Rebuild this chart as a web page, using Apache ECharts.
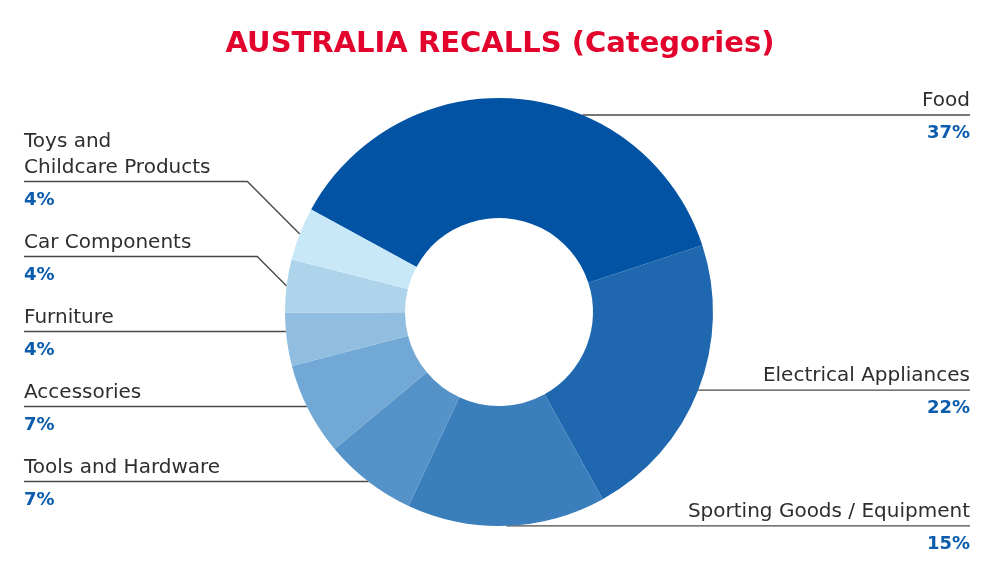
<!DOCTYPE html>
<html>
<head>
<meta charset="utf-8">
<script src="https://cdn.jsdelivr.net/npm/echarts@6/dist/echarts.min.js"></script>
<style>
    html, body { margin: 0; padding: 0; background: #fff; }
    #recalls { width: 1000px; height: 567px; }
</style>
</head>
<body>
<div id="recalls"></div>
<script>
    // recall categories, clockwise from the top
    const categories = ['Food', 'Electrical Appliances', 'Sporting Goods / Equipment', 'Tools and Hardware',
        'Accessories', 'Furniture', 'Car Components', 'Toys and\nChildcare Products'];
    const shares = [37, 22, 15, 7, 7, 4, 4, 4];
    const sliceColors = ['#0353a5', '#1f68b0', '#3a7ebb', '#5592c7', '#72a8d5', '#91bee0', '#aed4ec', '#c8e8f8'];

    // donut geometry
    const CX = 499, CY = 312, R_IN = 94, R_OUT = 214, START = 151.4;
    // label look
    const NAME_LH = 26, PCT_LH = 39, LABEL_STEP = 75, LINE_TOP = 115, LEFT_X = 24, RIGHT_X = 970;

    // work out where each label line sits: at the slice middle, kept below the title
    // and pushed apart so neighbouring labels keep LABEL_STEP between them
    const total = shares.reduce(function (a, b) { return a + b; }, 0);
    const lineInfo = [];
    (function () {
        let acc = 0, prevRight = -Infinity, prevLeft = Infinity;
        shares.forEach(function (v, i) {
            const a0 = START - acc / total * 360;
            const a1 = a0 - v / total * 360;
            acc += v;
            const mid = (a0 + a1) / 2 * Math.PI / 180;
            const mx = CX + R_OUT * Math.cos(mid);
            const my = Math.max(CY - R_OUT * Math.sin(mid), LINE_TOP);
            const isLeft = mx < CX;
            let y;
            if (isLeft) {
                y = Math.min(my, prevLeft - LABEL_STEP);
                prevLeft = y;
            } else {
                y = Math.max(my, prevRight + LABEL_STEP);
                prevRight = y;
            }
            // does a flat line at y meet this slice's outer edge?
            const up = CY - y;
            let start = null;
            if (Math.abs(up) <= R_OUT) {
                let ang = Math.asin(up / R_OUT) * 180 / Math.PI;
                if (isLeft) ang = 180 - ang;
                while (ang > a0) ang -= 360;
                while (ang < a1) ang += 360;
                if (ang <= a0 && ang >= a1) {
                    const dx = Math.sqrt(R_OUT * R_OUT - up * up);
                    start = [isLeft ? CX - dx : CX + dx, y];
                }
            }
            lineInfo.push({ isLeft: isLeft, y: y, start: start });
        });
    })();

    let myChart = echarts.init(document.getElementById('recalls'));

    let option = {
        title: {
            text: 'AUSTRALIA RECALLS (Categories)',
            left: 'center',
            top: 25,
            textStyle: {
                color: '#e2042c',
                fontFamily: 'DejaVu Sans',
                fontWeight: 'bold',
                fontSize: 29
            }
        },
        series: [
            {
                type: 'pie',
                center: [CX, CY],
                radius: [R_IN, R_OUT],
                startAngle: START,
                clockwise: true,
                avoidLabelOverlap: false,
                data: categories.map(function (name, i) {
                    return { name: name, value: shares[i], itemStyle: { color: sliceColors[i] } };
                }),
                label: {
                    show: true,
                    position: 'outside',
                    formatter: function (p) {
                        return '{n|' + p.name + '}\n{p|' + p.value + '%}';
                    },
                    rich: {
                        n: {
                            fontFamily: 'DejaVu Sans',
                            fontSize: 20,
                            color: '#2e2e2e',
                            lineHeight: NAME_LH
                        },
                        p: {
                            fontFamily: 'DejaVu Sans',
                            fontSize: 18,
                            fontWeight: 'bold',
                            color: '#0b5cad',
                            lineHeight: PCT_LH
                        }
                    }
                },
                labelLine: {
                    show: true,
                    length: 10,
                    length2: 10,
                    lineStyle: { color: '#4a4a4a', width: 1.4 }
                },
                labelLayout: function (params) {
                    const info = lineInfo[params.dataIndex];
                    const pts = params.labelLinePoints;
                    if (!pts || !info) return {};
                    const endX = info.isLeft ? LEFT_X : RIGHT_X;
                    let line;
                    if (info.start) {
                        line = [info.start, info.start, [endX, info.y]];
                    } else {
                        // from the middle of the slice, slanting to the label row
                        const p0 = pts[0];
                        const run = Math.abs(info.y - p0[1]);
                        const bend = [info.isLeft ? p0[0] - run : p0[0] + run, info.y];
                        line = [p0, bend, [endX, info.y]];
                    }
                    const nLines = categories[params.dataIndex].split('\n').length;
                    return {
                        x: endX,
                        y: info.y - 1 - nLines * NAME_LH,
                        align: info.isLeft ? 'left' : 'right',
                        verticalAlign: 'top',
                        labelLinePoints: line
                    };
                }
            }
        ]
    };

    myChart.setOption(option);
</script>
</body>
</html>
